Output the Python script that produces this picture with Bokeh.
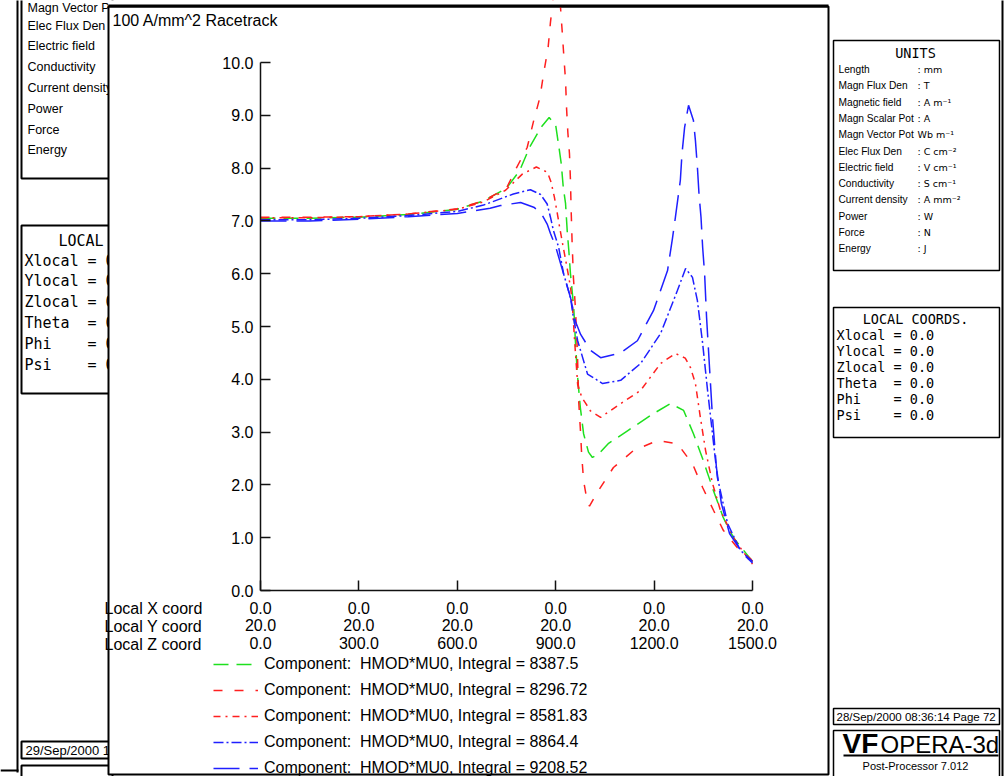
from bokeh.plotting import figure
from bokeh.models import Range1d, FixedTicker, Label, BoxAnnotation, Legend, LegendItem
from bokeh.embed import file_html
from bokeh.resources import INLINE

# ---------------- data ----------------
z_green = [0, 150, 300, 450, 600, 680, 750, 790, 820, 855, 880, 900, 910, 917, 923, 930, 935, 940, 945, 955,
           960, 966, 975, 985, 1000, 1012, 1030, 1060, 1120, 1198, 1250, 1290, 1320, 1350, 1381, 1411, 1442, 1473, 1500]
b_green = [7.05, 7.05, 7.07, 7.12, 7.22, 7.38, 7.62, 7.95, 8.39, 8.77, 8.96, 8.81, 8.39, 8.08, 7.64, 7.33, 6.82, 6.44, 6.0, 5.36,
           4.73, 4.1, 3.47, 2.97, 2.62, 2.52, 2.58, 2.78, 3.03, 3.35, 3.54, 3.41, 2.97, 2.46, 1.89, 1.38, 1.0, 0.76, 0.55]

z_red_dash = [0, 150, 300, 450, 600, 680, 750, 780, 813, 833, 852, 864, 877, 884, 905, 920, 925, 930, 933, 937,
              942, 945, 947, 950, 954, 960, 966, 970, 976, 979, 985, 997, 1003, 1030, 1076, 1137, 1210, 1271, 1317, 1348,
              1381, 1411, 1454, 1494, 1500]
b_red_dash = [7.07, 7.07, 7.08, 7.13, 7.23, 7.38, 7.62, 8.0, 8.39, 8.9, 9.34, 9.82, 10.29, 10.76, 11.9, 10.57, 10.1, 9.66, 9.15, 8.68,
              8.27, 7.77, 7.23, 6.6, 5.93, 5.36, 4.55, 3.6, 2.97, 2.59, 2.08, 1.65, 1.6, 1.89, 2.33, 2.65, 2.84, 2.78, 2.4, 1.95,
              1.52, 1.14, 0.81, 0.6, 0.55]

z_red_dot = [0, 150, 300, 450, 600, 680, 747, 799, 841, 875, 886, 896, 905, 912, 921, 935, 945, 950, 958, 967,
             980, 991, 1006, 1037, 1098, 1159, 1220, 1265, 1295, 1311, 1326, 1341, 1357, 1378, 1402, 1442, 1473, 1500]
b_red_dot = [7.06, 7.06, 7.08, 7.13, 7.22, 7.36, 7.58, 7.89, 8.02, 7.92, 7.73, 7.45, 7.14, 6.88, 6.57, 6.1, 5.75, 5.49, 4.7, 3.9,
             3.65, 3.55, 3.4, 3.28, 3.54, 3.79, 4.3, 4.49, 4.4, 4.22, 3.92, 3.28, 2.65, 2.03, 1.52, 1.0, 0.72, 0.5]

z_blue_dot = [0, 150, 300, 450, 600, 680, 771, 823, 854, 874, 884, 893, 909, 924, 945, 954, 967, 997, 1043, 1098,
              1159, 1220, 1271, 1296, 1317, 1332, 1348, 1363, 1378, 1393, 1424, 1463, 1500]
b_blue_dot = [7.02, 7.02, 7.05, 7.1, 7.18, 7.3, 7.51, 7.59, 7.5, 7.32, 7.07, 6.82, 6.5, 6.0, 5.55, 5.17, 4.73, 4.1, 3.92, 3.98,
              4.3, 4.87, 5.68, 6.1, 5.93, 5.49, 4.68, 3.79, 2.97, 2.14, 1.27, 0.76, 0.55]

z_blue_long = [0, 150, 300, 450, 600, 700, 732, 793, 833, 854, 874, 884, 899, 924, 945, 960, 976, 1006, 1037, 1098,
               1149, 1198, 1241, 1256, 1265, 1280, 1285, 1293, 1305, 1320, 1326, 1332, 1337, 1343, 1348, 1354, 1360,
               1369, 1378, 1390, 1405, 1430, 1470, 1500]
b_blue_long = [7.0, 7.0, 7.03, 7.08, 7.14, 7.24, 7.29, 7.35, 7.26, 7.16, 6.94, 6.76, 6.53, 6.0, 5.55, 5.1, 4.85, 4.55, 4.41, 4.5,
               4.73, 5.3, 6.06, 6.67, 7.07, 7.77, 8.27, 8.77, 9.19, 8.9, 8.52, 8.02, 7.5, 7.07, 6.5, 6.0, 5.17,
               4.22, 3.28, 2.33, 1.65, 1.08, 0.70, 0.52]

series_labels = [
    "Component:  HMOD*MU0, Integral = 8387.5",
    "Component:  HMOD*MU0, Integral = 8296.72",
    "Component:  HMOD*MU0, Integral = 8581.83",
    "Component:  HMOD*MU0, Integral = 8864.4",
    "Component:  HMOD*MU0, Integral = 9208.52",
]

z_ticks = [0, 300, 600, 900, 1200, 1500]
local_x_ticks = [0.0, 0.0, 0.0, 0.0, 0.0, 0.0]
local_y_ticks = [20.0, 20.0, 20.0, 20.0, 20.0, 20.0]
y_ticks = [0, 1, 2, 3, 4, 5, 6, 7, 8, 9, 10]
axis_row_names = ["Local X coord", "Local Y coord", "Local Z coord"]
plot_title = "100 A/mm^2 Racetrack"

units_names = ["Length", "Magn Flux Den", "Magnetic field", "Magn Scalar Pot", "Magn Vector Pot", "Elec Flux Den",
               "Electric field", "Conductivity", "Current density", "Power", "Force", "Energy"]
units_values = [": mm", ": T", ": A m\u207b\u00b9", ": A", "Wb m\u207b\u00b9", ": C cm\u207b\u00b2",
                ": V cm\u207b\u00b9", ": S cm\u207b\u00b9", ": A mm\u207b\u00b2", ": W", ": N", ": J"]
coord_names = ["Xlocal", "Ylocal", "Zlocal", "Theta", "Phi", "Psi"]
coord_values = ["= 0.0", "= 0.0", "= 0.0", "= 0.0", "= 0.0", "= 0.0"]
left_units_names = ["Magn Vector Pot", "Elec Flux Den", "Electric field", "Conductivity", "Current density",
                    "Power", "Force", "Energy"]

# ---------------- styles ----------------
GREEN = "#1ee01e"
RED = "#ff1f1f"
BLUE = "#1f1fff"
styles = [
    (GREEN, "15 8"),
    (RED, "9 12"),
    (RED, "7 5 2 5"),
    (BLUE, "10 3 2 3"),
    (BLUE, "26 10"),
]
SANS = "Liberation Sans"
MONO = "DejaVu Sans Mono"

W, H = 1006, 776
# plot area of the chart, in canvas pixels
AX_L, AX_R, AX_B = 260, 752, 590
Z_MAX = 1500
Y_PER_UNIT = 52.8
z_per_px = Z_MAX / (AX_R - AX_L)

p = figure(width=W, height=H, output_backend="svg", toolbar_location=None, title=None,
           x_range=Range1d(-AX_L * z_per_px, (W - AX_L) * z_per_px),
           y_range=Range1d((AX_B - H) / Y_PER_UNIT, AX_B / Y_PER_UNIT),
           min_border=0, min_border_left=0, min_border_right=0, min_border_top=0, min_border_bottom=0)
p.outline_line_color = None
p.background_fill_color = "white"
p.border_fill_color = "white"
p.grid.visible = False


def sx(X):
    return X


def sy(Y):
    return H - Y


def box(x0, y0, x1, y1, fill=None, lw=2, line="black", level="annotation"):
    b = BoxAnnotation(left=sx(x0), right=sx(x1), top=sy(y0), bottom=sy(y1),
                      left_units="screen", right_units="screen", top_units="screen", bottom_units="screen",
                      fill_color=fill if fill else "white", fill_alpha=1.0 if fill else 0.0,
                      line_color=line, line_alpha=1.0, line_width=lw, level=level)
    p.add_layout(b)
    return b


def label(X, Y, text, font=SANS, size=16, align="left", style="normal", level="annotation"):
    lab = Label(x=sx(X), y=sy(Y), x_units="screen", y_units="screen", text=text,
                text_font=font, text_font_size=f"{size}px", text_align=align, text_baseline="middle",
                text_font_style=style, text_color="black", level=level)
    p.add_layout(lab)
    return lab


# ---------------- left (background) window ----------------
box(16, -10, 18, 772, fill="black", line=None, level="underlay")
box(0, 769, 18, 771, fill="black", line=None, level="underlay")
box(21, -10, 112, 178, level="underlay")
for i, name in enumerate(left_units_names):
    label(27, 7 if i == 0 else 25 + 20.8 * (i - 1), name, size=12.5, level="underlay")
box(21, 225, 112, 393, level="underlay")
label(58, 240, "LOCAL COORDS.", font=MONO, size=15, level="underlay")
for i, (n, v) in enumerate(zip(coord_names, coord_values)):
    label(24, 260 + 20.8 * i, n, font=MONO, size=15, level="underlay")
    label(87, 260 + 20.8 * i, v, font=MONO, size=15, level="underlay")
box(21, 741, 112, 758, level="underlay")
label(25, 750, "29/Sep/2000 1", size=13, level="underlay")
box(21, 765, 112, 790, level="underlay")

# ---------------- main window ----------------
box(108, 6, 828, 774, fill="white", line="black", lw=2, level="underlay")

# ---------------- curves ----------------
series = [(z_green, b_green), (z_red_dash, b_red_dash), (z_red_dot, b_red_dot),
          (z_blue_dot, b_blue_dot), (z_blue_long, b_blue_long)]
renderers = []
for (zs, bs), (col, dash) in zip(series, styles):
    r = p.line(zs, bs, line_color=col, line_width=1.5, line_dash=dash)
    renderers.append(r)

# window top edge hides what rises above it
box(108, -10, 828, 5, fill="white", line=None)
box(108, 4, 828, 7, fill="black", line=None)

# ---------------- axes ----------------
yax = p.yaxis[0]
yax.fixed_location = 0
yax.ticker = FixedTicker(ticks=y_ticks)
yax.major_label_overrides = {t: f"{t:.1f}" for t in y_ticks}
yax.bounds = (0, 10)
xax = p.xaxis[0]
xax.fixed_location = 0
xax.ticker = FixedTicker(ticks=z_ticks)
xax.major_label_overrides = {z: f"{a:.1f}\n{b:.1f}\n{float(z):.1f}"
                             for z, a, b in zip(z_ticks, local_x_ticks, local_y_ticks)}
xax.bounds = (0, Z_MAX)
xax.major_label_text_line_height = 1.03
for ax in (xax, yax):
    ax.axis_line_color = "#111111"
    ax.axis_line_width = 1.5
    ax.major_tick_line_color = "#111111"
    ax.major_tick_line_width = 1.5
    ax.major_tick_in = 10
    ax.major_tick_out = 0
    ax.minor_tick_in = 0
    ax.minor_tick_out = 0
    ax.minor_tick_line_color = None
    ax.major_label_text_font = SANS
    ax.major_label_text_font_size = "16px"
    ax.major_label_text_color = "black"
yax.major_label_standoff = 7
xax.major_label_standoff = 9

label(112, 20, plot_title, size=16)
for i, name in enumerate(axis_row_names):
    label(104, 608 + 18 * i, name, size=16)

legend = Legend(items=[LegendItem(label=lab, renderers=[r]) for lab, r in zip(series_labels, renderers)],
                location=(213, -2),
                glyph_width=45, glyph_height=20, label_height=20, label_standoff=6, spacing=6,
                padding=0, margin=0, border_line_color=None, background_fill_alpha=0,
                label_text_font=SANS, label_text_font_size="16px", label_text_color="black")
p.add_layout(legend)

# ---------------- right panel ----------------
box(833, 40, 999, 270, lw=1.5)
label(915, 52, "UNITS", font=MONO, size=13.5, align="center")
for i, (n, v) in enumerate(zip(units_names, units_values)):
    label(838, 69 + 16.3 * i, n, size=10.2)
    label(917, 69 + 16.3 * i, v, font="DejaVu Sans", size=9.5)

box(833, 307, 999, 437, lw=1.5)
label(915, 318, "LOCAL COORDS.", font=MONO, size=13.5, align="center")
for i, (n, v) in enumerate(zip(coord_names, coord_values)):
    label(836, 334 + 16 * i, n, font=MONO, size=13.5)
    label(893, 334 + 16 * i, v, font=MONO, size=13.5)

box(833, 708, 999, 724, lw=1.5)
label(836, 716, "28/Sep/2000 08:36:14 Page 72", size=11.5)

box(833, 730, 999, 790, lw=1.5)
label(842, 743, "VF", size=28, style="bold")
label(880, 744, "OPERA-3d", size=24)
box(843, 754, 998, 756, fill="black", line=None)
label(915, 765, "Post-Processor 7.012", size=11, align="center")

box(1001, -10, 1003, 790, fill="black", line=None)

open("out.html", "w").write(file_html(p, INLINE))
